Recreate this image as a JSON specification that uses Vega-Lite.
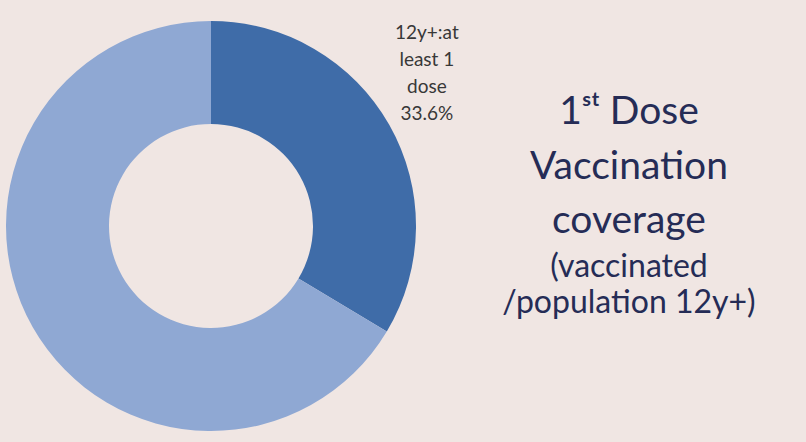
{
  "$schema": "https://vega.github.io/schema/vega-lite/v6.json",
  "background": "#f0e6e3",
  "padding": {"left": 0, "top": 10, "right": 0, "bottom": 0},
  "spacing": 0,
  "bounds": "flush",
  "config": {"view": {"stroke": null}},
  "hconcat": [
    {
      "width": 422,
      "height": 432,
      "data": {
        "values": [
          {"category": "12y+: at least 1 dose", "value": 33.6, "label": ["12y+:at", "least 1", "dose", "33.6%"]},
          {"category": "Not yet vaccinated", "value": 66.4, "label": ""}
        ]
      },
      "encoding": {
        "theta": {"field": "value", "type": "quantitative", "stack": true},
        "order": {"field": "category", "type": "nominal", "sort": "ascending"}
      },
      "layer": [
        {
          "mark": {"type": "arc", "innerRadius": 102, "outerRadius": 205},
          "encoding": {
            "color": {
              "field": "category",
              "type": "nominal",
              "scale": {"domain": ["12y+: at least 1 dose", "Not yet vaccinated"], "range": ["#3f6ca8", "#8fa8d3"]},
              "legend": null
            }
          }
        },
        {
          "mark": {"type": "text", "radius": 240, "dx": 7, "dy": -75, "fontSize": 19, "lineHeight": 27, "font": "Lato", "color": "#383838", "align": "center", "baseline": "middle"},
          "encoding": {
            "text": {"field": "label", "type": "nominal"}
          }
        }
      ]
    },
    {
      "width": 384,
      "height": 432,
      "layer": [
        {
          "data": {"values": [{"t": ["1ˢᵗ Dose", "Vaccination", "coverage"]}]},
          "mark": {"type": "text", "font": "Lato", "fontSize": 39, "lineHeight": 54.5, "baseline": "top", "align": "center", "dx": 15, "dy": -133, "color": "#252c56"},
          "encoding": {"text": {"field": "t", "type": "nominal"}}
        },
        {
          "data": {"values": [{"t": ["(vaccinated", "/population 12y+)"]}]},
          "mark": {"type": "text", "font": "Lato", "fontSize": 32, "lineHeight": 36, "baseline": "top", "align": "center", "dx": 15, "dy": 26, "color": "#252c56"},
          "encoding": {"text": {"field": "t", "type": "nominal"}}
        }
      ]
    }
  ]
}
